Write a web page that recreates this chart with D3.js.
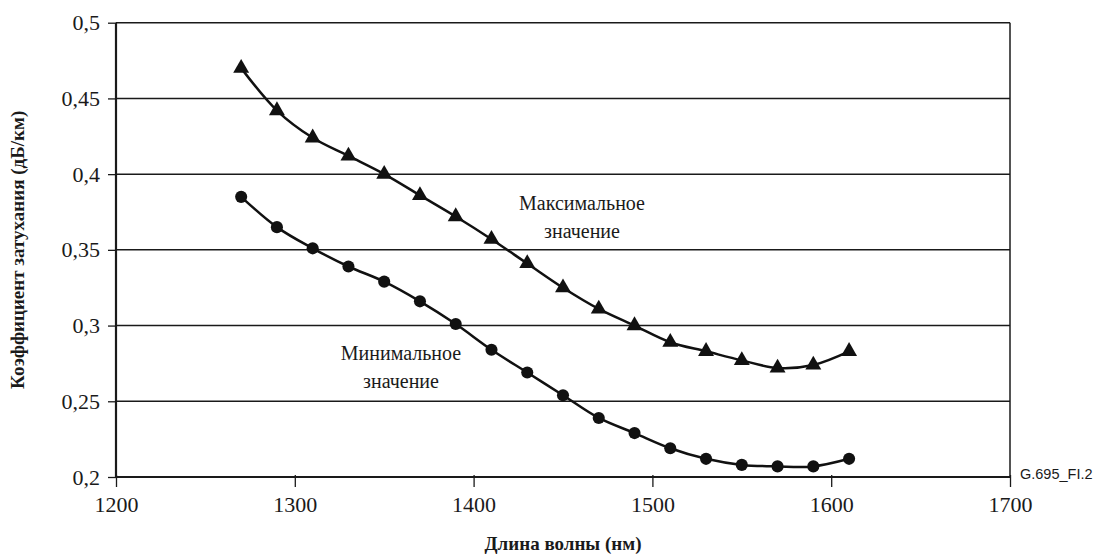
<!DOCTYPE html>
<html><head><meta charset="utf-8">
<script src="https://cdn.jsdelivr.net/npm/d3@7"></script>
<style>
body{margin:0;background:#fff}
svg text{font-family:"Liberation Serif" !important;}
svg text.sans{font-family:"Liberation Sans" !important;}
</style>
</head><body>
<svg id="c" width="1102" height="560" font-family="Liberation Serif"></svg>
<script>
const wavelengths = [1270,1290,1310,1330,1350,1370,1390,1410,1430,1450,1470,1490,1510,1530,1550,1570,1590,1610];
const maxValues = [0.470,0.442,0.424,0.412,0.400,0.386,0.372,0.357,0.341,0.325,0.311,0.300,0.289,0.283,0.277,0.272,0.274,0.283];
const minValues = [0.385,0.365,0.351,0.339,0.329,0.316,0.301,0.284,0.269,0.254,0.239,0.229,0.219,0.212,0.208,0.207,0.207,0.212];
const xTicks = [1200,1300,1400,1500,1600,1700];
const yTicks = [0.2,0.25,0.3,0.35,0.4,0.45,0.5];
const yTickLabels = ["0,2","0,25","0,3","0,35","0,4","0,45","0,5"];
const xTitle = "Длина волны (нм)";
const yTitle = "Коэффициент затухания (дБ/км)";
const maxLabel = ["Максимальное","значение"];
const minLabel = ["Минимальное","значение"];
const figId = "G.695_FI.2";

const svg = d3.select("#c");
const L=116, R=1010, T=22.7, B=477;
const x = d3.scaleLinear().domain([1200,1700]).range([L,R]);
const y = d3.scaleLinear().domain([0.2,0.5]).range([B,T]);

// gridlines
svg.append("g").selectAll("line").data(yTicks.slice(1)).join("line")
  .attr("x1",L).attr("x2",R).attr("y1",d=>y(d)).attr("y2",d=>y(d))
  .attr("stroke","#1a1a1a").attr("stroke-width",1.5);
// right border
svg.append("line").attr("x1",R).attr("x2",R).attr("y1",T).attr("y2",B)
  .attr("stroke","#1a1a1a").attr("stroke-width",1.5);

// axes
const yAxis = d3.axisLeft(y).tickValues(yTicks).tickSize(8).tickPadding(8)
  .tickFormat((d,i)=>yTickLabels[i]);
const gy = svg.append("g").attr("transform",`translate(${L},0)`).call(yAxis);
const xAxis = d3.axisBottom(x).tickValues(xTicks).tickSize(10).tickPadding(9).tickFormat(d3.format("d"));
const gx = svg.append("g").attr("transform",`translate(0,${B})`).call(xAxis);
[gx,gy].forEach(g=>{
  g.attr("font-family","Liberation Serif").attr("font-size",22);
  g.select(".domain").attr("stroke","#1a1a1a").attr("stroke-width",2.2);
  g.selectAll(".tick line").attr("stroke","#1a1a1a").attr("stroke-width",1.3);
  g.selectAll("text").attr("font-family","Liberation Serif").attr("font-size",22).attr("fill","#1a1a1a");
});
gy.select(".domain").attr("d",`M0,${B}V${T}`);
gx.select(".domain").attr("d",`M${L},0H${R}`);
gx.selectAll(".tick line").attr("y1",-2);

const line = d3.line().curve(d3.curveCatmullRom.alpha(0.5));
function series(vals, marker){
  const pts = wavelengths.map((w,i)=>[x(w),y(vals[i])]);
  svg.append("path").attr("d",line(pts)).attr("fill","none")
    .attr("stroke","#111").attr("stroke-width",2.5);
  const sym = d3.symbol().type(marker==="tri"?d3.symbolTriangle:d3.symbolCircle).size(marker==="tri"?110:115);
  svg.append("g").selectAll("path").data(pts).join("path")
    .attr("transform",d=>`translate(${d[0]},${d[1]})`)
    .attr("d",sym()).attr("fill","#111");
}
series(maxValues,"tri");
series(minValues,"circ");

// annotations
function label(lines, cx, y0){
  svg.append("text").attr("font-family","Liberation Serif").attr("font-size",20).attr("fill","#1a1a1a")
    .attr("text-anchor","middle")
    .selectAll("tspan").data(lines).join("tspan")
    .attr("x",cx).attr("y",(d,i)=>y0+i*28).text(d=>d);
}
label(maxLabel,582,210);
label(minLabel,401,360);

// titles
svg.append("text").attr("x",(L+R)/2).attr("y",550).attr("text-anchor","middle")
  .attr("font-family","Liberation Serif").attr("font-weight","bold").attr("font-size",19).attr("fill","#1a1a1a").text(xTitle);
svg.append("text").attr("transform",`translate(24,${(T+B)/2}) rotate(-90)`).attr("text-anchor","middle")
  .attr("font-family","Liberation Serif").attr("font-weight","bold").attr("font-size",19).attr("fill","#1a1a1a").text(yTitle);
svg.append("text").attr("class","sans").attr("x",1020).attr("y",479)
  .attr("font-size",14.5).attr("fill","#1a1a1a").text(figId);
</script>
</body></html>
